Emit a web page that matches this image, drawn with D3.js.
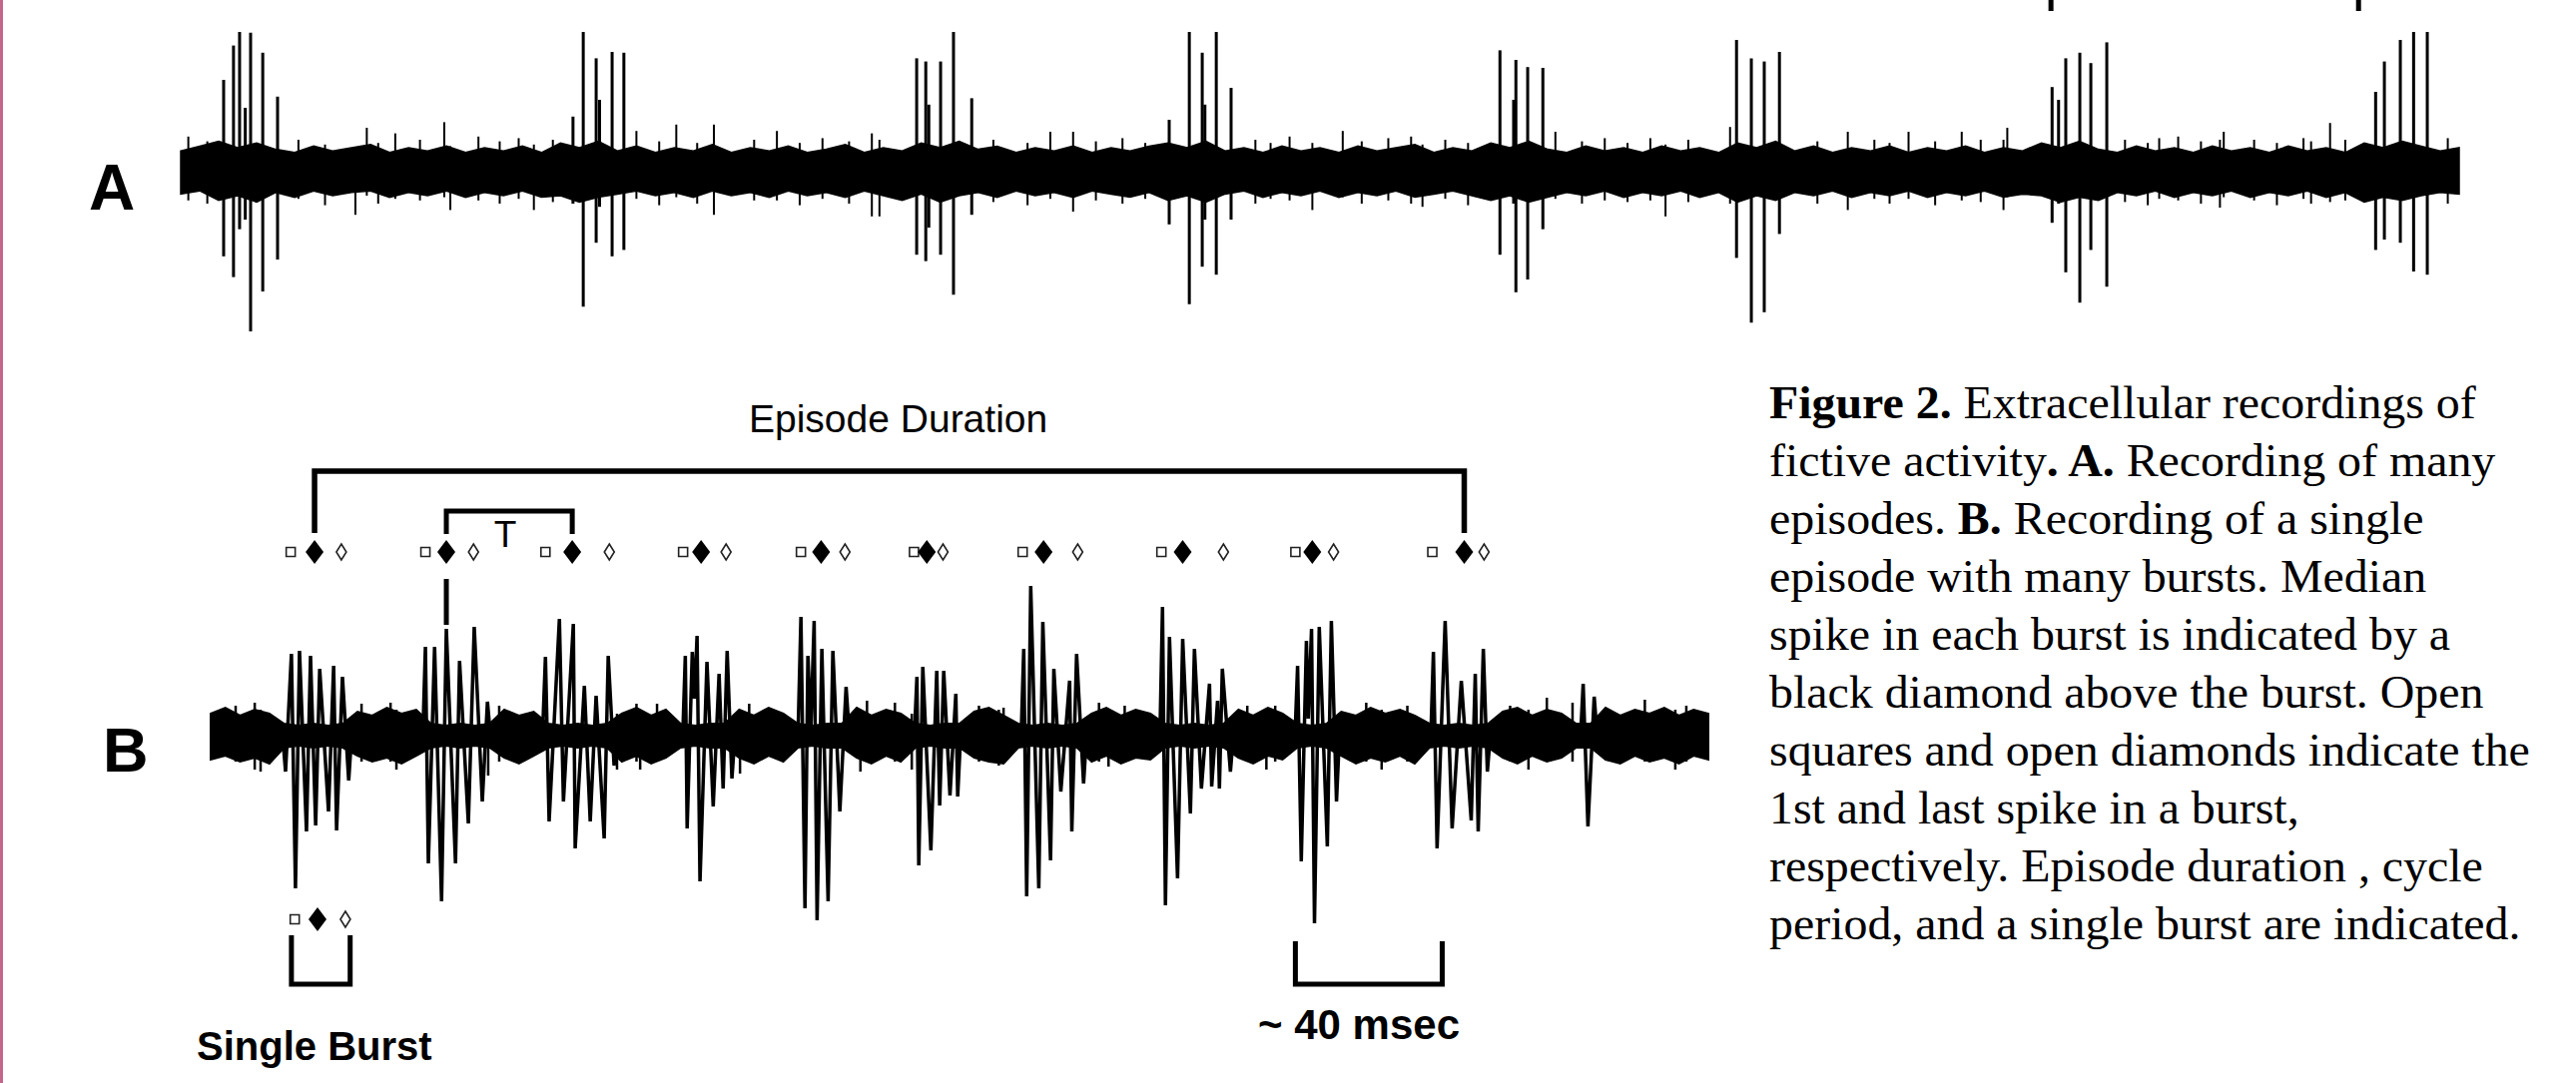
<!DOCTYPE html>
<html>
<head>
<meta charset="utf-8">
<script src="https://cdn.jsdelivr.net/npm/d3@7"></script>
<style>
  body { margin: 0; background: #fff; }
  svg { display: block; }
</style>
</head>
<body>
<svg id="fig" width="2580" height="1085"></svg>
<script>
// ---- trace A: many episodes (time in s, amplitude in arbitrary units) ----
const aStep = 0.5; // s between envelope samples
const aBandTop = [
  0.13,0.16,0.19,0.15,0.18,0.14,0.12,0.16,0.13,0.15,
  0.17,0.12,0.15,0.13,0.16,0.12,0.15,0.13,0.16,0.12,
  0.18,0.15,0.19,0.13,0.16,0.12,0.15,0.13,0.17,0.12,
  0.15,0.13,0.16,0.12,0.14,0.17,0.12,0.15,0.13,0.18,
  0.15,0.19,0.14,0.16,0.12,0.15,0.13,0.16,0.12,0.15,
  0.13,0.16,0.18,0.15,0.19,0.13,0.15,0.12,0.16,0.13,
  0.15,0.12,0.16,0.13,0.15,0.17,0.12,0.15,0.13,0.18,
  0.15,0.19,0.14,0.12,0.16,0.13,0.15,0.12,0.16,0.13,
  0.15,0.12,0.18,0.15,0.19,0.13,0.16,0.12,0.15,0.13,
  0.16,0.12,0.15,0.13,0.16,0.12,0.15,0.13,0.18,0.15,
  0.19,0.14,0.12,0.16,0.13,0.15,0.12,0.16,0.13,0.15,
  0.12,0.16,0.13,0.15,0.12,0.18,0.15,0.19,0.16,0.13,
  0.15
];
const aBandBot = [
  -0.14,-0.12,-0.18,-0.15,-0.19,-0.13,-0.16,-0.12,-0.15,-0.13,
  -0.12,-0.16,-0.13,-0.15,-0.12,-0.16,-0.13,-0.15,-0.12,-0.16,
  -0.15,-0.19,-0.16,-0.14,-0.12,-0.15,-0.13,-0.16,-0.12,-0.15,
  -0.13,-0.16,-0.12,-0.15,-0.13,-0.16,-0.12,-0.15,-0.18,-0.14,
  -0.19,-0.15,-0.13,-0.16,-0.12,-0.15,-0.13,-0.16,-0.12,-0.14,
  -0.16,-0.13,-0.18,-0.15,-0.19,-0.14,-0.12,-0.16,-0.13,-0.15,
  -0.12,-0.16,-0.13,-0.15,-0.12,-0.16,-0.14,-0.12,-0.15,-0.18,
  -0.15,-0.19,-0.16,-0.13,-0.15,-0.12,-0.16,-0.13,-0.15,-0.12,
  -0.16,-0.13,-0.19,-0.15,-0.18,-0.13,-0.15,-0.12,-0.16,-0.13,
  -0.15,-0.12,-0.16,-0.13,-0.15,-0.12,-0.16,-0.14,-0.15,-0.19,
  -0.16,-0.18,-0.13,-0.15,-0.12,-0.16,-0.13,-0.15,-0.12,-0.16,
  -0.13,-0.15,-0.12,-0.16,-0.13,-0.19,-0.16,-0.18,-0.15,-0.13,
  -0.14
];
// [time, peak up, peak down]
const aSpikes = [
  [1.13,0.575,-0.53],[1.39,0.79,-0.66],[1.55,0.875,-0.36],[1.7,0.4,-0.3],[1.84,0.87,-1.0],[2.16,0.745,-0.75],[2.55,0.47,-0.55],
  [10.33,0.345,-0.2],[10.6,0.875,-0.845],[10.94,0.71,-0.445],[11.03,0.45,-0.22],[11.36,0.75,-0.53],[11.67,0.745,-0.49],
  [19.38,0.71,-0.52],[19.62,0.69,-0.56],[19.7,0.42,-0.35],[20.01,0.69,-0.52],[20.35,0.875,-0.77],[20.83,0.46,-0.27],
  [26.03,0.325,-0.33],[26.56,0.875,-0.83],[26.9,0.745,-0.595],[26.97,0.42,-0.3],[27.27,0.875,-0.645],[27.66,0.525,-0.3],
  [34.74,0.76,-0.52],[35.1,0.45,-0.2],[35.16,0.7,-0.755],[35.47,0.655,-0.675],[35.87,0.65,-0.36],
  [40.97,0.825,-0.54],[41.36,0.71,-0.945],[41.7,0.69,-0.88],[42.1,0.75,-0.39],
  [49.28,0.53,-0.32],[49.45,0.45,-0.2],[49.64,0.71,-0.63],[50.01,0.745,-0.82],[50.3,0.68,-0.49],[50.72,0.81,-0.72],
  [57.8,0.5,-0.49],[58.03,0.69,-0.425],[58.45,0.825,-0.445],[58.8,0.875,-0.625],[59.16,0.875,-0.645]
];
const aFringe = [
  [0.2,0.22,-0.18],[0.7,0.19,-0.2],[3.1,0.2,-0.17],[3.8,0.17,-0.21],[4.6,0.15,-0.27],
  [4.9,0.275,-0.15],[5.2,0.18,-0.2],[5.65,0.24,-0.17],[6.3,0.2,-0.18],[6.94,0.31,-0.16],
  [7.1,0.16,-0.24],[7.84,0.22,-0.18],[8.4,0.19,-0.2],[8.9,0.21,-0.17],[9.3,0.17,-0.24],
  [9.8,0.2,-0.19],[12.0,0.255,-0.17],[12.6,0.19,-0.21],[13.05,0.295,-0.16],[13.6,0.18,-0.2],
  [14.04,0.295,-0.27],[15.1,0.2,-0.18],[15.7,0.255,-0.18],[16.3,0.18,-0.21],[16.9,0.21,-0.17],
  [17.6,0.19,-0.2],[18.2,0.24,-0.28],[18.4,0.2,-0.28],[21.4,0.2,-0.19],[22.3,0.18,-0.21],
  [22.9,0.25,-0.17],[23.5,0.25,-0.25],[24.1,0.19,-0.18],[24.8,0.21,-0.2],[25.4,0.18,-0.17],
  [28.3,0.2,-0.2],[28.7,0.18,-0.17],[29.2,0.22,-0.18],[29.8,0.18,-0.24],[30.6,0.255,-0.16],
  [31.1,0.19,-0.2],[31.8,0.21,-0.18],[32.4,0.22,-0.2],[32.7,0.17,-0.22],[33.3,0.2,-0.17],
  [33.9,0.18,-0.21],[36.2,0.25,-0.17],[36.9,0.19,-0.2],[37.5,0.21,-0.18],[38.1,0.18,-0.19],
  [38.7,0.21,-0.18],[39.1,0.17,-0.28],[39.7,0.2,-0.19],[40.8,0.28,-0.2],[43.1,0.19,-0.2],
  [43.9,0.25,-0.24],[44.6,0.2,-0.17],[45.0,0.18,-0.2],[45.5,0.25,-0.17],[46.2,0.19,-0.21],
  [46.9,0.25,-0.18],[47.4,0.2,-0.19],[48.0,0.2,-0.24],[48.1,0.275,-0.16],[51.2,0.2,-0.19],
  [51.8,0.18,-0.21],[52.1,0.21,-0.17],[52.6,0.22,-0.18],[53.2,0.19,-0.2],[53.7,0.2,-0.225],
  [53.8,0.25,-0.16],[54.6,0.2,-0.18],[55.2,0.18,-0.21],[55.9,0.21,-0.17],[56.1,0.19,-0.2],
  [56.6,0.305,-0.19],[57.0,0.2,-0.18],[59.7,0.21,-0.2]
];
const aTopBracket = [49.25, 57.35]; // cut-off cycle bracket above trace A

// ---- trace B: single episode (time in ms) ----
const bStep = 4; // ms between envelope samples
const bBandTop = [
  0.11,0.14,0.10,0.13,0.11,0.06,0.05,0.06,0.05,0.06,
  0.12,0.10,0.14,0.11,0.13,0.06,0.05,0.06,0.05,0.06,
  0.13,0.10,0.12,0.06,0.05,0.06,0.05,0.06,0.11,0.14,
  0.10,0.13,0.06,0.05,0.06,0.06,0.13,0.10,0.14,0.11,
  0.06,0.05,0.06,0.06,0.14,0.10,0.13,0.11,0.06,0.05,
  0.06,0.06,0.12,0.14,0.10,0.06,0.05,0.06,0.05,0.06,
  0.11,0.14,0.10,0.13,0.11,0.06,0.05,0.06,0.05,0.06,
  0.13,0.10,0.14,0.11,0.06,0.05,0.06,0.12,0.10,0.14,
  0.11,0.13,0.10,0.06,0.05,0.06,0.05,0.06,0.12,0.14,
  0.10,0.13,0.11,0.06,0.06,0.14,0.10,0.13,0.11,0.14,
  0.10,0.13,0.11
];
const bBandBot = [
  -0.12,-0.10,-0.13,-0.11,-0.14,-0.06,-0.05,-0.06,-0.05,-0.06,
  -0.10,-0.13,-0.11,-0.14,-0.10,-0.06,-0.05,-0.06,-0.05,-0.06,
  -0.11,-0.14,-0.10,-0.06,-0.05,-0.06,-0.05,-0.06,-0.13,-0.10,
  -0.14,-0.11,-0.06,-0.05,-0.06,-0.06,-0.11,-0.14,-0.10,-0.13,
  -0.06,-0.05,-0.06,-0.06,-0.11,-0.14,-0.10,-0.13,-0.06,-0.05,
  -0.06,-0.06,-0.11,-0.13,-0.14,-0.06,-0.05,-0.06,-0.05,-0.06,
  -0.13,-0.10,-0.14,-0.11,-0.12,-0.06,-0.05,-0.06,-0.05,-0.06,
  -0.11,-0.14,-0.10,-0.12,-0.06,-0.05,-0.06,-0.10,-0.14,-0.11,
  -0.13,-0.10,-0.14,-0.06,-0.05,-0.06,-0.05,-0.06,-0.11,-0.14,
  -0.10,-0.13,-0.11,-0.06,-0.06,-0.12,-0.14,-0.10,-0.13,-0.11,
  -0.14,-0.10,-0.12
];
const bFringe = [
  [6.8,0.15,-0.13],[12.0,0.165,-0.17],[13.6,0.13,-0.18],[41.1,0.16,-0.13],[49.0,0.165,-0.13],
  [50.6,0.13,-0.17],[75.6,0.11,-0.2],[78.6,0.15,-0.13],[110.7,0.11,-0.17],[116,0.16,-0.13],
  [117,0.13,-0.17],[121.6,0.16,-0.13],[144.2,0.12,-0.19],[146.7,0.16,-0.13],[177,0.12,-0.18],
  [178.8,0.175,-0.13],[186.4,0.165,-0.13],[191,0.11,-0.17],[209.3,0.15,-0.13],[214.7,0.13,-0.15],
  [216,0.14,-0.13],[242,0.165,-0.13],[244.6,0.13,-0.155],[249,0.15,-0.13],[282.4,0.15,-0.13],
  [287.6,0.13,-0.17],[290,0.15,-0.13],[314.8,0.165,-0.13],[319,0.13,-0.17],[326,0.15,-0.13],
  [354,0.15,-0.13],[359,0.13,-0.17],[364,0.19,-0.13],[371,0.165,-0.13],[390.7,0.18,-0.13],
  [399,0.13,-0.17],[402,0.15,-0.13]
];
// each burst: [time, amplitude] turning points
const bBursts = [
  [[19.6,0],[20.4,-0.18],[22.0,0.41],[23.1,-0.765],[24.2,0.425],[26.1,-0.48],[27.2,0.40],[28.6,-0.45],[29.7,0.335],[32.1,-0.38],[33.5,0.35],[34.3,-0.475],[35.9,0.295],[37.6,-0.225],[38.4,0]],
  [[57.8,0],[58.5,0.445],[59.3,-0.64],[61.0,0.445],[62.9,-0.83],[64.2,0.535],[66.7,-0.64],[67.8,0.375],[70.2,-0.44],[71.8,0.545],[74.0,-0.33],[75.4,0.17],[76.2,0]],
  [[90.4,0],[91.2,0.395],[92.2,-0.43],[95.0,0.585],[96.1,-0.33],[98.8,0.56],[99.3,-0.565],[101.8,0.25],[103.4,-0.43],[105.0,0.20],[107.2,-0.515],[108.3,0.40],[109.9,-0.15],[110.6,0]],
  [[128.6,0],[129.3,0.40],[129.8,-0.465],[131.2,0.42],[131.8,0.185],[132.5,0.50],[133.3,-0.73],[135.2,0.37],[136.9,-0.355],[138.5,0.31],[139.6,-0.265],[140.7,0.425],[142.0,-0.215],[142.8,0]],
  [[160.0,0],[160.8,0.595],[161.9,-0.865],[162.7,0.40],[163.5,0.035],[164.4,0.575],[165.2,-0.925],[166.5,0.435],[168.2,-0.83],[169.5,0.425],[171.4,-0.38],[173.1,0.245],[174.0,0]],
  [[191.7,0],[192.4,0.295],[192.9,-0.65],[194.0,0.345],[196.2,-0.575],[197.8,0.325],[198.6,-0.35],[199.7,0.325],[201.4,-0.30],[203.0,0.21],[203.5,-0.305],[204.3,0]],
  [[220.8,0],[221.5,0.435],[222.3,-0.805],[223.4,0.75],[225.6,-0.765],[226.7,0.57],[228.8,-0.625],[229.7,0.335],[231.6,-0.28],[234.0,0.275],[234.6,-0.48],[235.9,0.41],[237.8,-0.24],[238.6,0]],
  [[258.6,0],[259.3,0.645],[260.1,-0.85],[261.2,0.495],[263.4,-0.715],[264.8,0.485],[266.9,-0.39],[268.0,0.435],[269.9,-0.265],[272.1,0.26],[272.7,-0.255],[274.3,0.175],[274.8,-0.265],[275.6,0.335],[277.8,-0.18],[278.6,0]],
  [[295.4,0],[296.1,0.35],[297.1,-0.63],[298.5,0.475],[299.0,0.085],[299.9,0.535],[300.7,-0.94],[302.0,0.545],[304.2,-0.555],[305.3,0.575],[306.7,-0.33],[307.5,0]],
  [[332.4,0],[333.1,0.42],[334.1,-0.565],[336.3,0.575],[338.2,-0.465],[340.7,0.275],[343.4,-0.425],[344.5,0.31],[345.3,-0.48],[346.7,0.435],[347.8,-0.18],[348.6,0]],
  [[373.2,0],[373.9,0.26],[375.2,-0.455],[376.9,0.195],[377.7,0]]
];
// first spike, median spike, last spike of each burst (ms)
const burstFirst  = [21.8, 58.5, 91.2, 128.7, 160.8, 191.6, 221.2, 259.0, 295.5, 332.8];
const burstMedian = [28.3, 64.2, 98.5, 133.6, 166.3, 195.1, 226.9, 264.8, 300.1, 341.5];
const burstLast   = [35.6, 71.6, 108.6, 140.4, 172.8, 199.5, 236.2, 275.9, 305.9, 346.9];
const legendBurst = [22.9, 29.1, 36.7];   // first, median, last of the "single burst" key
const singleBurstSpan = [22, 38];          // ms
const scaleBar = [295.5, 40];              // start, length in ms

const captionLines = [
  [["Figure 2.", true], [" Extracellular recordings of", false]],
  [["fictive activity", false], [". A.", true], [" Recording of many", false]],
  [["episodes. ", false], ["B.", true], [" Recording of a single", false]],
  [["episode with many bursts. Median", false]],
  [["spike in each burst is indicated by a", false]],
  [["black diamond above the burst. Open", false]],
  [["squares and open diamonds indicate the", false]],
  [["1st and last spike in a burst,", false]],
  [["respectively. Episode duration , cycle", false]],
  [["period, and a single burst are indicated.", false]]
];

const svg = d3.select("#fig");
const sans = "'Liberation Sans', Arial, sans-serif";

// left page edge
svg.append("line")
    .attr("x1", 1.5).attr("x2", 1.5).attr("y1", 0).attr("y2", 1085)
    .attr("stroke", "#c4668c").attr("stroke-width", 3);

// ===== trace A =====
const xA = d3.scaleLinear().domain([0, 60]).range([181, 2463]);
const yA = d3.scaleLinear().domain([-1, 1]).range([332, 12]);

const areaA = d3.area()
    .x((d, i) => xA(i * aStep))
    .y0((d, i) => yA(aBandBot[i]))
    .y1(d => yA(d));

svg.append("path").datum(aBandTop)
    .attr("d", areaA)
    .attr("fill", "#000")
    .attr("stroke", "#000")
    .attr("stroke-width", 1.5);

svg.append("g").selectAll("line").data(aFringe).join("line")
    .attr("x1", d => xA(d[0])).attr("x2", d => xA(d[0]))
    .attr("y1", d => yA(d[1])).attr("y2", d => yA(d[2]))
    .attr("stroke", "#000").attr("stroke-width", 2);

svg.append("g").selectAll("line").data(aSpikes).join("line")
    .attr("x1", d => xA(d[0])).attr("x2", d => xA(d[0]))
    .attr("y1", d => yA(d[1])).attr("y2", d => yA(d[2]))
    .attr("stroke", "#000").attr("stroke-width", 3);

// small ticks of the bracket cut off at the top edge
svg.append("g").selectAll("line").data(aTopBracket).join("line")
    .attr("x1", d => xA(d)).attr("x2", d => xA(d))
    .attr("y1", 0).attr("y2", 11)
    .attr("stroke", "#000").attr("stroke-width", 5);

svg.append("text")
    .attr("x", 89).attr("y", 210)
    .attr("font-family", sans).attr("font-weight", "bold").attr("font-size", 64)
    .text("A");

// ===== trace B =====
const xB = d3.scaleLinear().domain([0, 408]).range([211, 1711]);
const yB = d3.scaleLinear().domain([-1, 1]).range([937, 537]);

const areaB = d3.area()
    .x((d, i) => xB(i * bStep))
    .y0((d, i) => yB(bBandBot[i]))
    .y1(d => yB(d));

svg.append("path").datum(bBandTop)
    .attr("d", areaB)
    .attr("fill", "#000")
    .attr("stroke", "#000")
    .attr("stroke-width", 2);

svg.append("g").selectAll("line").data(bFringe).join("line")
    .attr("x1", d => xB(d[0])).attr("x2", d => xB(d[0]))
    .attr("y1", d => yB(d[1])).attr("y2", d => yB(d[2]))
    .attr("stroke", "#000").attr("stroke-width", 2.5);

const burstLine = d3.line().x(d => xB(d[0])).y(d => yB(d[1]));
svg.append("g").selectAll("path").data(bBursts).join("path")
    .attr("d", burstLine)
    .attr("fill", "none")
    .attr("stroke", "#000")
    .attr("stroke-width", 3.5)
    .attr("stroke-linejoin", "miter")
    .attr("stroke-miterlimit", 4);

svg.append("text")
    .attr("x", 103).attr("y", 773)
    .attr("font-family", sans).attr("font-weight", "bold").attr("font-size", 63)
    .text("B");

// ===== burst markers =====
const squarePath = "M-4.5,-4.5H4.5V4.5H-4.5Z";
const fullDiamond = "M0,-12L9,0L0,12L-9,0Z";
const openDiamond = "M0,-8L5,0L0,8L-5,0Z";

function markerGroup(g, first, median, last, y) {
    g.append("path").attr("d", squarePath)
        .attr("transform", `translate(${xB(first)},${y})`)
        .attr("fill", "#fff").attr("stroke", "#222").attr("stroke-width", 1.6);
    g.append("path").attr("d", fullDiamond)
        .attr("transform", `translate(${xB(median)},${y})`)
        .attr("fill", "#000");
    g.append("path").attr("d", openDiamond)
        .attr("transform", `translate(${xB(last)},${y})`)
        .attr("fill", "#fff").attr("stroke", "#222").attr("stroke-width", 1.6);
}

const markers = svg.append("g");
burstMedian.forEach((m, i) => markerGroup(markers, burstFirst[i], m, burstLast[i], 553));
markerGroup(markers, legendBurst[0], legendBurst[1], legendBurst[2], 921);

// ===== annotations =====
const ep0 = xB(burstMedian[0]), ep1 = xB(burstMedian[burstMedian.length - 1]);
svg.append("path")
    .attr("d", `M${ep0},534V472H${ep1}V534`)
    .attr("fill", "none").attr("stroke", "#000").attr("stroke-width", 5.5);

svg.append("text")
    .attr("x", 750).attr("y", 433)
    .attr("font-family", sans).attr("font-size", 39)
    .text("Episode Duration");

const t0 = xB(burstMedian[1]), t1 = xB(burstMedian[2]);
svg.append("path")
    .attr("d", `M${t0},535V512H${t1}V535`)
    .attr("fill", "none").attr("stroke", "#000").attr("stroke-width", 5);
svg.append("text")
    .attr("x", (t0 + t1) / 2 - 4).attr("y", 548)
    .attr("text-anchor", "middle")
    .attr("font-family", sans).attr("font-size", 37)
    .text("T");
svg.append("line")
    .attr("x1", t0).attr("x2", t0).attr("y1", 580).attr("y2", 626)
    .attr("stroke", "#000").attr("stroke-width", 5);

// single burst key
const sb0 = xB(singleBurstSpan[0]), sb1 = xB(singleBurstSpan[1]);
svg.append("path")
    .attr("d", `M${sb0},937V986H${sb1}V937`)
    .attr("fill", "none").attr("stroke", "#000").attr("stroke-width", 5);
svg.append("text")
    .attr("x", 197).attr("y", 1062)
    .attr("font-family", sans).attr("font-weight", "bold").attr("font-size", 40)
    .text("Single Burst");

// time scale bar
const sc0 = xB(scaleBar[0]), sc1 = xB(scaleBar[0] + scaleBar[1]);
svg.append("path")
    .attr("d", `M${sc0},943V986H${sc1}V943`)
    .attr("fill", "none").attr("stroke", "#000").attr("stroke-width", 5);
svg.append("text")
    .attr("x", 1260).attr("y", 1041)
    .attr("font-family", sans).attr("font-weight", "bold").attr("font-size", 42)
    .text("~ 40 msec");

// ===== caption =====
const caption = svg.append("g");
const capLines = caption.selectAll("text").data(captionLines).join("text")
    .attr("x", 0)
    .attr("y", (d, i) => 419 + i * 58)
    .attr("font-family", "'Liberation Serif', 'Times New Roman', serif")
    .attr("font-size", 47)
    .attr("fill", "#000");
capLines.selectAll("tspan").data(d => d).join("tspan")
    .attr("font-weight", d => d[1] ? "bold" : "normal")
    .text(d => d[0]);

// fit the caption block to the reference width
const refLine = capLines.nodes()[6].getComputedTextLength();
const sx = 762 / refLine;
caption.attr("transform", `translate(1772,0) scale(${sx},1)`);
</script>
</body>
</html>
